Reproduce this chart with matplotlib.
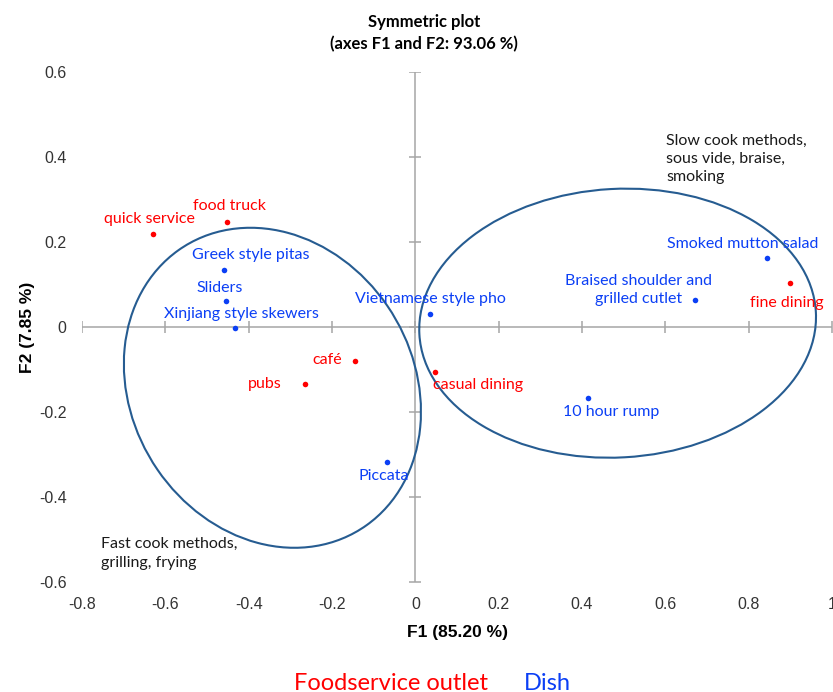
import matplotlib
matplotlib.use("Agg")
import matplotlib.pyplot as plt
from matplotlib.patches import Ellipse
import numpy as np

# ---- data ----
outlet_names = ["quick service", "food truck", "café", "pubs", "casual dining", "fine dining"]
outlet_f1 = [-0.629, -0.451, -0.145, -0.265, 0.048, 0.898]
outlet_f2 = [0.219, 0.248, -0.079, -0.133, -0.105, 0.104]

dish_names = ["Greek style pitas", "Sliders", "Xinjiang style skewers", "Piccata",
              "Vietnamese style pho", "10 hour rump", "Braised shoulder and\ngrilled cutlet",
              "Smoked mutton salad"]
dish_f1 = [-0.460, -0.454, -0.434, -0.068, 0.034, 0.414, 0.672, 0.843]
dish_f2 = [0.133, 0.062, -0.002, -0.318, 0.031, -0.168, 0.064, 0.162]

# confidence-style ellipses: centre, width, height, angle
ell_fast = (-0.343, -0.143, 0.789, 0.673, -55.1)
ell_slow = (0.4855, 0.009, 0.953, 0.632, 3.1)

xticks = [-0.8, -0.6, -0.4, -0.2, 0, 0.2, 0.4, 0.6, 0.8, 1]
yticks = [-0.6, -0.4, -0.2, 0, 0.2, 0.4, 0.6]

# label offsets in pixels (dx, dy) from each point to the text centre
outlet_off = [(-4, 15), (2, 16), (-28, 1), (-40, 0), (43, -13), (-3, -20)]
dish_off = [(27, 15), (-6, 13), (7, 14), (-3, -14), (1, 15), (23, -14), (-57, 10), (-24, 14)]

RED = "#FF0000"
BLUE = "#0B3FF5"
ELL = "#265C91"
AXC = "#A6A6A6"
LAB_FONT = ["Lato", "DejaVu Sans"]

fig = plt.figure(figsize=(8.33, 6.92), dpi=100)
ax = fig.add_axes([82 / 833, 110 / 692, 750 / 833, 510 / 692])
ax.set_xlim(-0.8, 1.0)
ax.set_ylim(-0.6, 0.6)
for s in ax.spines.values():
    s.set_visible(False)

# axes through the origin, with crossing tick marks
ax.axhline(0, color=AXC, lw=1.1, zorder=1)
ax.axvline(0, color=AXC, lw=1.1, zorder=1)
ax.plot(xticks, np.zeros(len(xticks)), ls="none", marker="|", ms=9, mew=1.1, color=AXC, zorder=1)
ax.plot(np.zeros(len(yticks)), yticks, ls="none", marker="_", ms=9, mew=1.1, color=AXC, zorder=1)

ax.set_xticks(xticks)
ax.set_yticks(yticks)
ax.set_xticklabels(["%g" % t for t in xticks])
ax.set_yticklabels(["%g" % t for t in yticks])
ax.tick_params(length=0, pad=11, labelsize=11.5, labelcolor="#333333")
for lab in ax.get_xticklabels() + ax.get_yticklabels():
    lab.set_family("Liberation Sans")

for cx, cy, w, h, a in [ell_fast, ell_slow]:
    ax.add_patch(Ellipse((cx, cy), w, h, angle=a, fill=False, ec=ELL, lw=1.5, zorder=2))

ax.scatter(outlet_f1, outlet_f2, s=16, color=RED, zorder=3, linewidths=0)
ax.scatter(dish_f1, dish_f2, s=16, color=BLUE, zorder=3, linewidths=0)

for name, x, y, off in zip(outlet_names, outlet_f1, outlet_f2, outlet_off):
    ax.annotate(name, (x, y), xytext=off, textcoords="offset pixels", ha="center",
                va="center", color=RED, fontsize=11.5, family=LAB_FONT)
for name, x, y, off in zip(dish_names, dish_f1, dish_f2, dish_off):
    ax.annotate(name, (x, y), xytext=off, textcoords="offset pixels", ha="center",
                va="center", color=BLUE, fontsize=11.5, family=LAB_FONT, linespacing=1.35)

# group notes
ax.text(0.602, 0.455, "Slow cook methods,\nsous vide, braise,\nsmoking", ha="left", va="top",
        fontsize=11.5, family=LAB_FONT, color="#1a1a1a", linespacing=1.4)
ax.text(-0.755, -0.495, "Fast cook methods,\ngrilling, frying", ha="left", va="top",
        fontsize=11.5, family=LAB_FONT, color="#1a1a1a", linespacing=1.4)

ax.set_xlabel("F1 (85.20 %)", fontsize=12.5, fontweight="bold", family="Liberation Sans",
              labelpad=9)
ax.set_ylabel("F2 (7.85 %)", fontsize=12.5, fontweight="bold", family="Liberation Sans",
              labelpad=3)

fig.text(424 / 833, 1 - 33 / 692, "Symmetric plot\n(axes F1 and F2: 93.06 %)", ha="center",
         va="center", fontsize=12, fontweight="bold", family=LAB_FONT, linespacing=1.4)

fig.text(391 / 833, 1 - 683 / 692, "Foodservice outlet", ha="center", va="center",
         fontsize=17, color=RED, family=LAB_FONT)
fig.text(547 / 833, 1 - 683 / 692, "Dish", ha="center", va="center",
         fontsize=17, color=BLUE, family=LAB_FONT)

fig.savefig("out.png", dpi=100)
